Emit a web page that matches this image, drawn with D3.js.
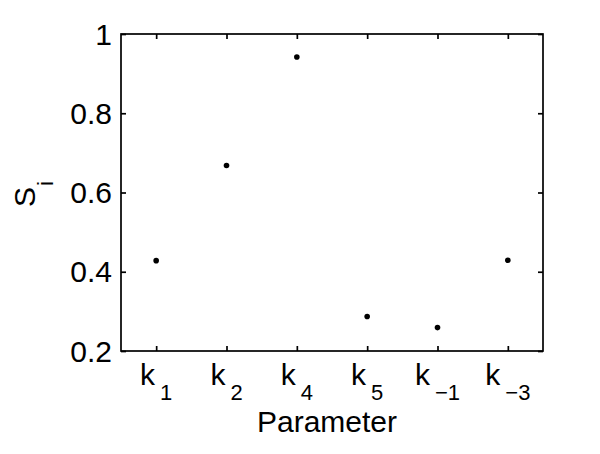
<!DOCTYPE html>
<html><head><meta charset="utf-8">
<script src="https://cdn.jsdelivr.net/npm/d3@7"></script>
<style>body{margin:0;background:#fff}svg{display:block}text{font-family:"Liberation Sans",Arial,Helvetica,sans-serif;fill:#000}</style>
</head><body>
<svg id="c" width="600" height="454"></svg>
<script>
const categories = ["k1","k2","k4","k5","k-1","k-3"];
const subscripts = ["1","2","4","5","\u22121","\u22123"];
const values = [0.428, 0.668, 0.942, 0.287, 0.259, 0.429];
const yTicks = [0.2, 0.4, 0.6, 0.8, 1];
const yTickLabels = ["0.2","0.4","0.6","0.8","1"];

const svg = d3.select("#c");
const L = 121, R = 543, T = 34, B = 351;
const x = d3.scalePoint().domain(categories).range([L, R]).padding(0.5);
const y = d3.scaleLinear().domain([0.2, 1]).range([B, T]);
const fs = 30, sfs = 22, tick = 5, sw = 1.7;

// frame
svg.append("rect").attr("x", L).attr("y", T).attr("width", R - L).attr("height", B - T)
  .attr("fill", "none").attr("stroke", "#000").attr("stroke-width", sw);

// inward ticks via axes
const styleAxis = g => { g.select(".domain").remove(); g.selectAll("line").attr("stroke", "#000").attr("stroke-width", sw); };
svg.append("g").attr("transform", `translate(0,${B})`)
  .call(d3.axisBottom(x).tickSizeInner(-tick).tickSizeOuter(0).tickFormat(""))
  .call(styleAxis).selectAll("text").remove();
svg.append("g").attr("transform", `translate(0,${T})`)
  .call(d3.axisTop(x).tickSizeInner(-tick).tickSizeOuter(0).tickFormat(""))
  .call(styleAxis).selectAll("text").remove();
svg.append("g").attr("transform", `translate(${L},0)`)
  .call(d3.axisLeft(y).tickValues(yTicks).tickSizeInner(-tick).tickSizeOuter(0).tickFormat(""))
  .call(styleAxis).selectAll("text").remove();
svg.append("g").attr("transform", `translate(${R},0)`)
  .call(d3.axisRight(y).tickValues(yTicks).tickSizeInner(-tick).tickSizeOuter(0).tickFormat(""))
  .call(styleAxis).selectAll("text").remove();

// y tick labels
svg.append("g").selectAll("text").data(yTicks).join("text")
  .attr("x", L - 9).attr("y", d => y(d)).attr("dy", "0.35em")
  .attr("text-anchor", "end").attr("font-size", fs)
  .text((d, i) => yTickLabels[i]);

// x tick labels with subscripts
const xl = svg.append("g").selectAll("text").data(categories).join("text")
  .attr("x", d => x(d)).attr("y", B + 34).attr("text-anchor", "middle").attr("font-size", fs);
xl.append("tspan").text("k");
xl.append("tspan").attr("font-size", sfs).attr("dy", 15).attr("dx", 5).text((d, i) => subscripts[i]);

// axis labels
svg.append("text").attr("x", 327).attr("y", 432).attr("text-anchor", "middle")
  .attr("font-size", fs).text("Parameter");
const yl = svg.append("text").attr("transform", "translate(35,194) rotate(-90)")
  .attr("text-anchor", "middle").attr("font-size", fs);
yl.append("tspan").text("S");
yl.append("tspan").attr("font-size", sfs).attr("dy", 18).attr("dx", 1).text("i");

// points
svg.append("g").selectAll("circle").data(values).join("circle")
  .attr("cx", (d, i) => x(categories[i])).attr("cy", d => y(d)).attr("r", 2.8).attr("fill", "#000");
</script>
</body></html>
